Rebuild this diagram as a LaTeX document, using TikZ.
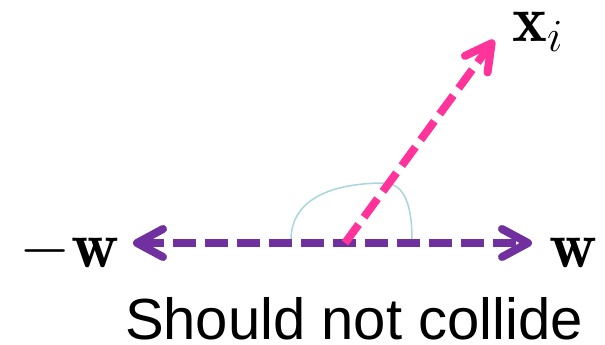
\RequirePackage{fix-cm}
\documentclass[tikz,border=0pt]{standalone}
\usepackage{fontspec}
\newfontfamily\capfont{Liberation Sans}
\usepackage{tikz}
\usetikzlibrary{arrows.meta}
\definecolor{wPurple}{HTML}{7030A0}
\definecolor{xPink}{HTML}{FF3399}
\definecolor{angleTeal}{HTML}{A9D6DA}
\DeclareMathSizes{66}{66}{46}{33}

\begin{document}
\begin{tikzpicture}[
    x=1pt, y=-1pt,
    vec/.style={line width=8pt, dash pattern=on 23pt off 9pt},
    lbl/.style={font=\fontsize{66}{66}\selectfont, inner sep=0pt},
    chev/.tip={Straight Barb[length=26pt, width=28pt, round]}
  ]
  \useasboundingbox (0,0) rectangle (605,345);
  \coordinate (o) at (345,243);
  \coordinate (wl) at (133,243);
  \coordinate (wr) at (532,243);
  \coordinate (xt) at (494,40);
  \coordinate (arcl) at (291,240);
  \coordinate (arct) at (385,183);
  \coordinate (arcr) at (412,240);

  \node[lbl, anchor=base east] (negw) at (119,267) {$-\mathbf{w}$};
  \node[lbl, anchor=base west] (posw) at (549,267) {$\mathbf{w}$};
  \node[lbl, anchor=base west] (xi) at (512,42) {$\mathbf{x}_i$};
  \node[font=\capfont\fontsize{58}{58}\selectfont, inner sep=0pt, text depth=0pt, anchor=base] (note) at (354,339) {Should not collide};

  % angle between x_i and w
  \draw[angleTeal, line width=1.5pt] (arcl) .. controls (291,200) and (330,183) .. (arct) .. controls (402,184) and (412,200) .. (arcr);
  \draw[vec, wPurple, chev-chev] (wl) -- (wr);
  \draw[vec, xPink, -chev] (o) -- (xt);
\end{tikzpicture}
\end{document}
